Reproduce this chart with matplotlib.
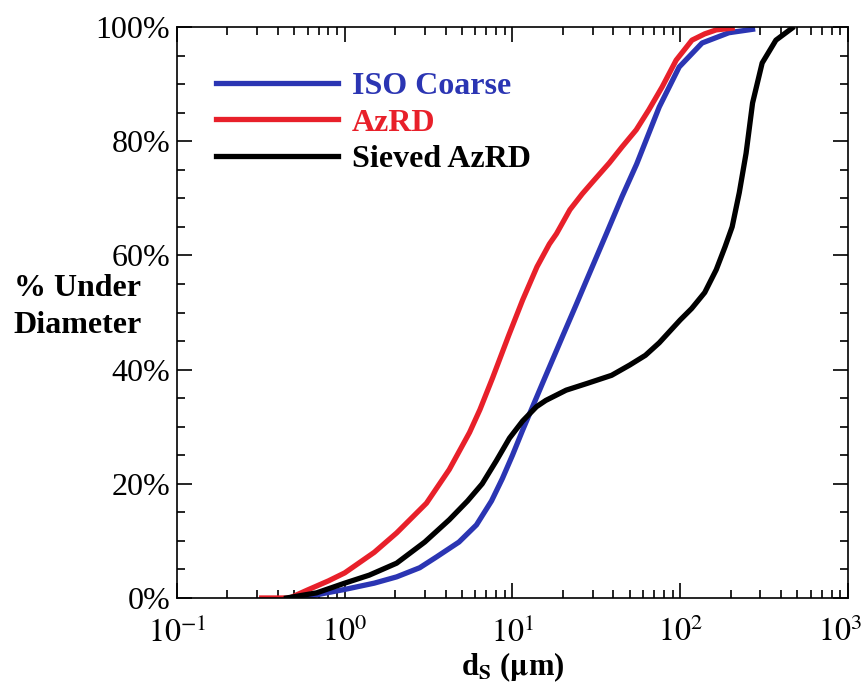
import math
import matplotlib.pyplot as plt
from matplotlib.ticker import FixedLocator, LogLocator, NullFormatter, FuncFormatter
from matplotlib.transforms import ScaledTranslation

plt.rcParams['font.family'] = ['Liberation Serif', 'DejaVu Serif']
plt.rcParams['mathtext.fontset'] = 'stix'

# particle size distributions
iso_x = [0.55, 0.78, 1.0, 1.5, 2.04, 2.8, 3.53, 4.8, 6.1, 7.5, 8.7, 10, 11.5, 13.9, 15.1, 20,
         24, 27.5, 36.3, 45, 55, 75, 98.6, 135, 195, 270]
iso_y = [0, 0.9, 1.5, 2.6, 3.7, 5.3, 7.2, 9.8, 12.8, 17, 20.9, 25, 29.4, 35.1, 37.6, 46,
         51.4, 55.5, 63.8, 70.3, 76, 86, 93, 97.2, 99, 99.6]

azrd_x = [0.32, 0.47, 0.6, 0.8, 1.0, 1.5, 2.04, 3.07, 4.2, 5.55, 6.4, 7.6, 9.5, 11.5, 14, 16.6,
          18.3, 22, 26.1, 29.9, 37.8, 45, 54.7, 65, 78, 94.6, 117.5, 140, 164, 204]
azrd_y = [0, 0, 1.4, 3, 4.4, 8, 11.4, 16.6, 22.5, 29, 33, 38.5, 46, 52.2, 58, 62,
          63.8, 68, 70.8, 72.8, 76.2, 79, 82, 85.5, 89.5, 94.2, 97.7, 98.8, 99.5, 99.8]

sieved_x = [0.45, 0.68, 1.0, 1.4, 2.04, 3.0, 4.2, 5.4, 6.6, 8, 9.6, 11.5, 13.9, 15.8, 20.9, 28,
            39, 50, 62, 75, 100, 117, 140, 164, 185, 204, 225, 247, 270, 308, 372, 464]
sieved_y = [0, 0.9, 2.6, 4.0, 6.1, 9.8, 13.7, 17, 20, 24, 28, 31, 33.5, 34.6, 36.4, 37.6,
            39, 40.8, 42.5, 44.7, 48.7, 50.7, 53.5, 57.5, 61.5, 65, 71, 77.9, 86.7, 93.7, 97.7, 99.8]

x_ticks = [0.1, 1, 10, 100, 1000]
y_ticks = [0, 20, 40, 60, 80, 100]

fig = plt.figure(figsize=(8.65, 6.91), dpi=100)
ax = fig.add_axes([0.2046, 0.1346, 0.7757, 0.8263])

ax.plot(iso_x, iso_y, color='#2b35b3', lw=3.8, label='ISO Coarse')
ax.plot(azrd_x, azrd_y, color='#e8202a', lw=3.8, label='AzRD')
ax.plot(sieved_x, sieved_y, color='black', lw=3.8, label='Sieved AzRD')

ax.set_xscale('log')
ax.set_xlim(0.1, 1000)
ax.set_ylim(0, 100)

ax.xaxis.set_major_locator(FixedLocator(x_ticks))
ax.xaxis.set_minor_locator(LogLocator(base=10, subs=range(2, 10), numticks=20))
ax.xaxis.set_minor_formatter(NullFormatter())
ax.xaxis.set_major_formatter(FuncFormatter(lambda v, p: '$10^{%d}$' % round(math.log10(v))))
ax.yaxis.set_major_locator(FixedLocator(y_ticks))
ax.yaxis.set_minor_locator(FixedLocator(range(0, 101, 5)))
ax.yaxis.set_major_formatter(FuncFormatter(lambda v, p: '%d%%' % v))

ax.tick_params(which='both', direction='in', top=True, right=True, labelsize=23, width=1.2)
ax.tick_params(which='major', length=11)
ax.tick_params(which='minor', length=6)
ax.tick_params(axis='x', which='major', pad=14)
ax.tick_params(axis='y', which='major', pad=5)
for s in ax.spines.values():
    s.set_linewidth(1.2)

# the last x label sits right at the figure edge, nudge it in a little
fig.canvas.draw()
last = ax.get_xticklabels()[-1]
last.set_transform(last.get_transform() + ScaledTranslation(-8 / 100, 0, fig.dpi_scale_trans))

ax.set_xlabel('d$_\\mathbf{S}$ ($\\mathbf{\\mu}$m)', fontsize=22, fontweight='bold', labelpad=1)
fig.text(0.016, 0.556, '% Under\nDiameter', fontsize=23, fontweight='bold',
         ha='left', va='center', linespacing=1.35)

leg = ax.legend(loc='upper left', bbox_to_anchor=(0.016, 0.972), frameon=False,
                handlelength=3.8, handletextpad=0.45, labelspacing=0.22,
                prop={'size': 23, 'weight': 'bold'})
for txt, line in zip(leg.get_texts(), leg.get_lines()):
    txt.set_color(line.get_color())

fig.savefig('out.png', dpi=100)
